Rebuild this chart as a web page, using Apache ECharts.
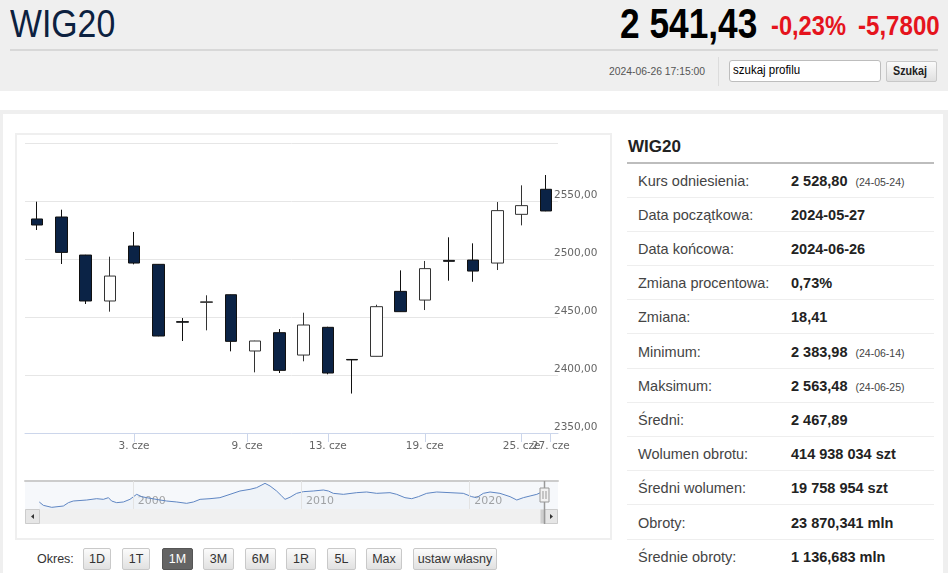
<!DOCTYPE html>
<html><head><meta charset="utf-8">
<script src="https://cdn.jsdelivr.net/npm/echarts@6/dist/echarts.min.js"></script>
<style>
body{margin:0;width:948px;height:573px;overflow:hidden;background:#fff;font-family:'Liberation Sans',Arial,sans-serif;position:relative}
.abs{position:absolute;white-space:nowrap}
.sx{transform-origin:0 0}
.btn{position:absolute;top:548px;height:22px;box-sizing:border-box;border:1px solid #c9c9c9;border-radius:2px;background:linear-gradient(#fbfbfb,#e1e1e1);font-size:12.5px;color:#333;text-align:center;line-height:20px}
.btn.on{background:#646464;border-color:#555;color:#fff}
.row{position:absolute;left:627px;width:307px;height:34.2px;box-sizing:border-box;border-bottom:1px solid #eeeeee}
.row .l{position:absolute;left:11px;top:0;line-height:34px;font-size:14.5px;color:#444}
.row .v{position:absolute;left:164px;top:0;line-height:34px;font-size:14.5px;font-weight:bold;color:#222}
.row .v small{font-weight:normal;font-size:10.5px;color:#444;margin-left:8px}
</style></head>
<body>
<div class="abs" style="left:0;top:0;width:948px;height:91px;background:#efefef"></div>
<div class="abs sx" style="left:10px;top:5px;font-size:38px;line-height:38px;color:#0c2140;transform:scaleX(0.89)">WIG20</div>
<div class="abs sx" style="left:620px;top:2.5px;font-size:42px;line-height:42px;font-weight:bold;color:#000;transform:scaleX(0.84)">2 541,43</div>
<div class="abs sx" style="left:771px;top:11.5px;font-size:28px;line-height:28px;font-weight:bold;color:#e5141d;transform:scaleX(0.845)">-0,23%</div>
<div class="abs sx" style="left:858px;top:11.5px;font-size:28px;line-height:28px;font-weight:bold;color:#e5141d;transform:scaleX(0.86)">-5,7800</div>
<div class="abs" style="left:10px;top:49px;width:928px;height:2px;background:#d8d8d8"></div>
<div class="abs sx" style="left:609px;top:65px;font-size:11.5px;line-height:13px;color:#555;transform:scaleX(0.9)">2024-06-26 17:15:00</div>
<div class="abs" style="left:718px;top:57px;width:1px;height:29px;background:#dcdcdc"></div>
<div class="abs" style="left:729px;top:60px;width:152px;height:22px;box-sizing:border-box;border:1px solid #bdbdbd;border-radius:3px;background:#fff"></div>
<div class="abs sx" style="left:733px;top:64px;font-size:12.5px;line-height:13px;color:#000;transform:scaleX(0.92)">szukaj profilu</div>
<div class="abs" style="left:886px;top:61px;width:51px;height:21px;box-sizing:border-box;border:1px solid #c8c8c8;border-radius:2px;background:linear-gradient(#fbfbfb,#e0e0e0)"></div>
<div class="abs sx" style="left:893px;top:65px;font-size:12.5px;line-height:13px;font-weight:bold;color:#222;transform:scaleX(0.86)">Szukaj</div>

<div class="abs" style="left:0;top:110px;width:948px;height:463px;background:#efefef"></div>
<div class="abs" style="left:3px;top:114px;width:940px;height:459px;background:#fff"></div>
<div class="abs" style="left:15px;top:133px;width:597px;height:407px;box-sizing:border-box;border:2px solid #efefef"></div>

<div class="abs" style="left:628px;top:137.5px;font-size:17px;line-height:17px;font-weight:bold;color:#222">WIG20</div>
<div class="abs" style="left:627px;top:161.5px;width:307px;height:2px;background:#bdbdbd"></div>
<div id="tbl"></div>

<div class="abs" style="left:37px;top:552px;font-size:12.5px;line-height:14px;color:#333">Okres:</div>
<div id="btns"></div>

<div id="chart" style="position:absolute;left:0;top:0;width:948px;height:573px;z-index:5"></div>
<script>
// ---- main candlestick data (WIG20, 1M) ----
const dates = ['2024-05-27','2024-05-28','2024-05-29','2024-05-31','2024-06-03','2024-06-04','2024-06-05','2024-06-06','2024-06-07','2024-06-10','2024-06-11','2024-06-12','2024-06-13','2024-06-14','2024-06-17','2024-06-18','2024-06-19','2024-06-20','2024-06-21','2024-06-24','2024-06-25','2024-06-26'];
const openV  = [2534.5,2536.2,2503.4,2463.8,2511.2,2495.4,2446.0,2462.6,2469.2,2420.7,2436.5,2417.2,2441.1,2413.4,2416.1,2472.1,2464.6,2498.8,2499.1,2496.5,2538.5,2560.1];
const closeV = [2529.3,2505.7,2463.8,2485.3,2496.5,2433.6,2445.5,2463.1,2429.0,2429.3,2404.0,2443.1,2401.7,2413.0,2458.9,2454.6,2491.7,2498.0,2489.6,2541.7,2546.0,2541.4];
const lowV   = [2525.0,2495.7,2461.2,2454.6,2495.4,2433.4,2429.3,2438.5,2420.4,2402.3,2401.7,2411.8,2400.6,2384.0,2416.0,2454.4,2456.0,2481.3,2480.4,2490.5,2529.0,2541.2];
const highV  = [2549.4,2542.5,2503.6,2502.0,2523.3,2495.6,2449.1,2468.7,2469.4,2429.5,2439.6,2453.7,2441.6,2413.5,2460.6,2490.2,2498.3,2518.7,2513.5,2549.1,2563.5,2572.4];
const xTickDays = ['2024-06-03','2024-06-09','2024-06-13','2024-06-19','2024-06-25','2024-06-27'];
const yTicks = [2350,2400,2450,2500,2550,2600];
// ---- navigator (full history, decimal years) ----
const navT = [1994.41,1994.65,1995.15,1995.84,1996.14,1996.43,1997.23,1997.82,1998.22,1998.52,1998.71,1999.01,1999.41,1999.80,2000.20,2000.50,2000.79,2001.59,2001.98,2002.58,2003.17,2003.57,2003.97,2004.56,2005.15,2005.75,2006.34,2006.94,2007.33,2007.83,2008.13,2008.52,2008.82,2009.02,2009.32,2009.71,2010.11,2010.70,2011.30,2011.60,2011.89,2012.49,2013.28,2013.87,2014.47,2015.26,2015.66,2016.15,2016.55,2016.95,2017.44,2018.04,2018.83,2019.62,2020.12,2020.41,2020.81,2021.21,2021.80,2022.40,2022.80,2023.19,2023.59,2023.99,2024.29,2024.48];
const navV = [1706,1327,1099,1251,1630,1819,1933,2084,2009,2198,1819,1630,1706,2009,2577,2312,2198,1933,1819,1706,1554,1706,2009,2084,2198,2577,2956,3146,3335,3828,3525,2956,2388,2009,2250,2691,2880,2956,3070,2956,2691,2577,2767,2843,2691,2767,2577,2198,2084,2312,2691,2843,2767,2691,2312,2198,2691,2843,2691,2312,1933,2198,2388,2577,2843,2800];
const navYears = [2000,2010,2020];
// ---- side table & buttons ----
const tblLabels = ['Kurs odniesienia:','Data początkowa:','Data końcowa:','Zmiana procentowa:','Zmiana:','Minimum:','Maksimum:','Średni:','Wolumen obrotu:','Średni wolumen:','Obroty:','Średnie obroty:'];
const tblValues = ['2 528,80','2024-05-27','2024-06-26','0,73%','18,41','2 383,98','2 563,48','2 467,89','414 938 034 szt','19 758 954 szt','23 870,341 mln','1 136,683 mln'];
const tblNotes  = ['(24-05-24)','','','','','(24-06-14)','(24-06-25)','','','','',''];
const periods = ['1D','1T','1M','3M','6M','1R','5L','Max','ustaw własny'];
const activePeriod = '1M';

// table
let th='';
tblLabels.forEach((l,i)=>{
  th += '<div class="row" style="top:'+(163.5+34.2*i)+'px"><span class="l">'+l+'</span><span class="v">'+tblValues[i]+(tblNotes[i]?'<small>'+tblNotes[i]+'</small>':'')+'</span></div>';
});
document.getElementById('tbl').innerHTML = th;
// buttons
const btnL=[83,122,162,203,245,286,327,366,413], btnW=[28,28,31,31,31,30,29,36,84];
let bh='';
periods.forEach((p,i)=>{ bh += '<div class="btn'+(p===activePeriod?' on':'')+'" style="left:'+btnL[i]+'px;width:'+btnW[i]+'px">'+p+'</div>'; });
document.getElementById('btns').innerHTML = bh;

// ordinal positions for tick labels
const DAY=86400000, SUB=15, EXT=0.2;
const ts = dates.map(d=>Date.parse(d));
function ordPos(d){
  const t=Date.parse(d), n=ts.length;
  if (t>=ts[n-1]) return n-1 + (t-ts[n-1])/DAY*EXT;
  for (let i=0;i<n-1;i++) if (t>=ts[i] && t<=ts[i+1]) return i + (t-ts[i])/(ts[i+1]-ts[i]);
  return 0;
}
const monthsPl=['sty','lut','mar','kwi','maj','cze','lip','sie','wrz','paź','lis','gru'];
const fine = new Array(dates.length*SUB).fill('');
const tickIdx = [];
xTickDays.forEach(d=>{
  const j = Math.round(ordPos(d)*SUB) + (SUB-1)/2;
  const dt = new Date(d+'T00:00:00Z');
  fine[j] = dt.getUTCDate()+'. '+monthsPl[dt.getUTCMonth()];
  tickIdx.push(j);
});
// labels split over two axes so overlapping ones are both drawn (alternate ticks)
const setA = tickIdx.filter((j,k)=>k%2===0), setB = tickIdx.filter((j,k)=>k%2===1);
function decYear(d){ const dt=new Date(d+'T00:00:00Z'); const y=dt.getUTCFullYear(); const s=Date.UTC(y,0,1), e=Date.UTC(y+1,0,1); return y+(dt-s)/(e-s); }

const GL=25, GW=533, navTop=481, navH=28;
const navXMin = 1993.56, navXMax = 2025.25, navYMin = 910, navYMax = 4093;
const labelFont = {fontFamily:'DejaVu Sans', fontSize:10.5, color:'#666'};
function tickAxis(set, showLine){
  return {type:'category', gridIndex:0, data:fine, position:'bottom', boundaryGap:true,
    axisLine:{show:showLine, lineStyle:{color:'#ccd6eb', width:1}},
    axisTick:{show:true, alignWithLabel:true, length:9, interval:(i)=>set.includes(i), lineStyle:{color:'#ccd6eb'}},
    axisLabel:Object.assign({interval:(i)=>set.includes(i), margin:8, hideOverlap:false, showMinLabel:true, showMaxLabel:true}, labelFont),
    splitLine:{show:false}};
}

const chart = echarts.init(document.getElementById('chart'));
chart.setOption({
  animation:false,
  grid:[
    {left:GL, top:143, width:GW, height:290},
    {left:GL, top:navTop, width:GW, height:navH, show:true, backgroundColor:'rgba(102,133,194,0.06)', borderWidth:0}
  ],
  xAxis:[
    {type:'category', gridIndex:0, data:dates, show:false, boundaryGap:true},
    tickAxis(setA, true),
    {type:'value', gridIndex:1, min:navXMin, max:navXMax, position:'top',
      axisLine:{show:true, onZero:false, lineStyle:{color:'#cccccc', width:2}},
      axisTick:{show:false}, axisLabel:{show:false}, splitLine:{show:false}},
    tickAxis(setB, false)
  ],
  yAxis:[
    {type:'value', gridIndex:0, position:'right', min:yTicks[0], max:yTicks[yTicks.length-1], interval:yTicks[1]-yTicks[0],
      axisLine:{show:false}, axisTick:{show:false},
      splitLine:{show:true, lineStyle:{color:'#e6e6e6', width:1}},
      axisLabel:Object.assign({showMaxLabel:false, showMinLabel:true, margin:-4, verticalAlign:'bottom', formatter:v=>v.toFixed(2).replace('.',',')}, labelFont)},
    {type:'value', gridIndex:1, min:navYMin, max:navYMax, show:false}
  ],
  series:[
    {type:'candlestick', xAxisIndex:0, yAxisIndex:0, barWidth:12,
      data: dates.map((d,i)=>[openV[i], closeV[i], lowV[i], highV[i]]),
      itemStyle:{color:'#ffffff', color0:'#0b2346', borderColor:'#333333', borderColor0:'#111111', borderWidth:1}},
    {type:'scatter', xAxisIndex:2, yAxisIndex:1, z:1, silent:true, symbolSize:1,
      itemStyle:{color:'rgba(0,0,0,0)'},
      data: navYears.map(y=>[y, navYMin]),
      label:{show:true, position:'right', distance:4, offset:[0,-7.5], formatter:p=>String(p.value[0]), color:'#8e8e8e', fontFamily:'DejaVu Sans', fontSize:11},
      markLine:{silent:true, symbol:['none','none'], label:{show:false}, lineStyle:{color:'#e3e3e3', type:'solid', width:1},
        data: navYears.map(y=>({xAxis:y}))}},
    {type:'line', xAxisIndex:2, yAxisIndex:1, z:3, silent:true, showSymbol:false, symbol:'none',
      data: navT.map((t,i)=>[t, navV[i]]),
      lineStyle:{color:'#5f86c3', width:1}, areaStyle:{color:'rgba(69,114,167,0.05)', origin:'start'}}
  ]
});

// navigator handle + scrollbar decoration
const selA = chart.convertToPixel({xAxisIndex:2}, decYear(dates[0]));
const selB = chart.convertToPixel({xAxisIndex:2}, decYear(dates[dates.length-1]));
const hx = Math.round((selA+selB)/2)+0.5;
const sbT = navTop+navH, sbH = 15, R = GL+GW;
chart.setOption({graphic:[
  {type:'rect', shape:{x:GL, y:sbT, width:GW, height:sbH}, style:{fill:'#f0f0f0'}, silent:true, z:10},
  {type:'rect', shape:{x:GL+0.5, y:sbT+0.5, width:14, height:sbH-1}, style:{fill:'#e6e6e6', stroke:'#cccccc', lineWidth:1}, silent:true, z:11},
  {type:'polygon', shape:{points:[[GL+6,sbT+7.5],[GL+9,sbT+5],[GL+9,sbT+10]]}, style:{fill:'#333'}, silent:true, z:12},
  {type:'rect', shape:{x:R-13.5, y:sbT+0.5, width:13, height:sbH-1}, style:{fill:'#e6e6e6', stroke:'#cccccc', lineWidth:1}, silent:true, z:11},
  {type:'polygon', shape:{points:[[R-5,sbT+7.5],[R-8,sbT+5],[R-8,sbT+10]]}, style:{fill:'#333'}, silent:true, z:12},
  {type:'rect', shape:{x:hx-4, y:sbT+0.5, width:5, height:sbH-1}, style:{fill:'#cfcfcf'}, silent:true, z:12},
  {type:'line', shape:{x1:hx, y1:navTop, x2:hx, y2:sbT+sbH}, style:{stroke:'#999999', lineWidth:1.5}, silent:true, z:13},
  {type:'rect', shape:{x:hx-4.5, y:488, width:9, height:14}, style:{fill:'#f2f2f2', stroke:'#999999', lineWidth:1}, silent:true, z:14},
  {type:'line', shape:{x1:hx-1.5, y1:491, x2:hx-1.5, y2:499}, style:{stroke:'#999999', lineWidth:1}, silent:true, z:15},
  {type:'line', shape:{x1:hx+1.5, y1:491, x2:hx+1.5, y2:499}, style:{stroke:'#999999', lineWidth:1}, silent:true, z:15}
]});
</script>
</body></html>
